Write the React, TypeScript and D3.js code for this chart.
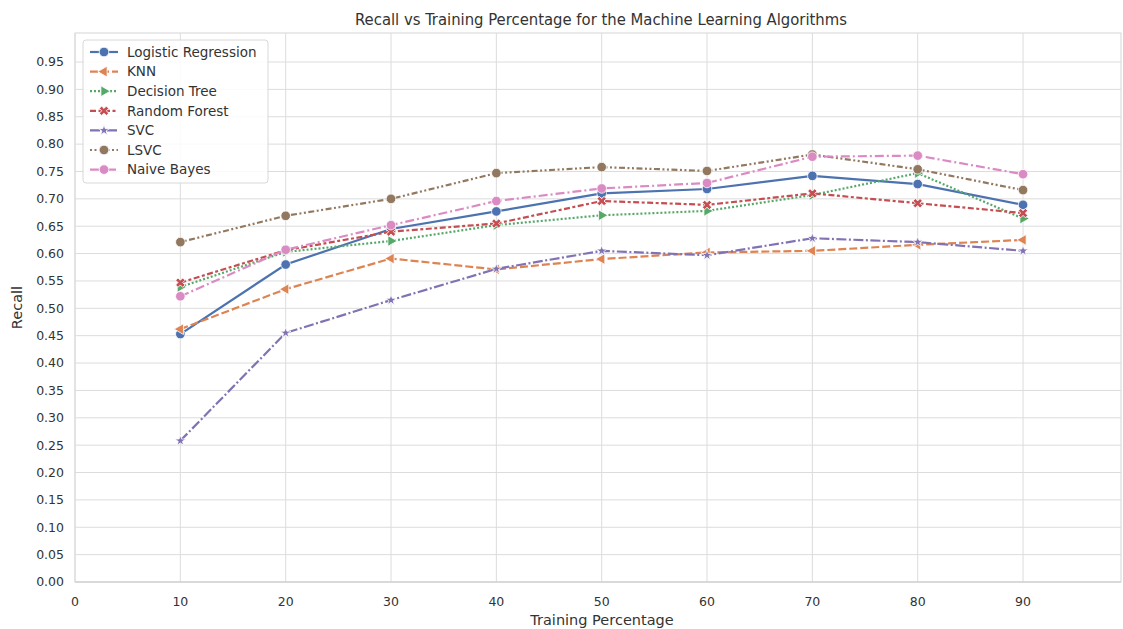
import React from 'react'
import * as d3 from 'd3'

const width = 1123
const height = 629
const margin = { top: 33, right: 2, bottom: 47, left: 75 }

const trainingPct = [10, 20, 30, 40, 50, 60, 70, 80, 90]
const xTicks = [0, 10, 20, 30, 40, 50, 60, 70, 80, 90]
const yTicks = d3.range(0, 20).map(i => i * 0.05)

const logisticRegression = [0.453, 0.58, 0.645, 0.677, 0.71, 0.718, 0.742, 0.727, 0.689]
const knn = [0.462, 0.535, 0.591, 0.571, 0.59, 0.602, 0.605, 0.616, 0.625]
const decisionTree = [0.539, 0.603, 0.623, 0.652, 0.67, 0.678, 0.707, 0.747, 0.664]
const randomForest = [0.547, 0.606, 0.64, 0.655, 0.696, 0.689, 0.71, 0.692, 0.674]
const svc = [0.258, 0.455, 0.515, 0.572, 0.605, 0.597, 0.628, 0.621, 0.605]
const lsvc = [0.621, 0.669, 0.7, 0.747, 0.758, 0.751, 0.781, 0.754, 0.716]
const naiveBayes = [0.522, 0.607, 0.652, 0.696, 0.719, 0.729, 0.777, 0.779, 0.745]

const seriesNames = ['Logistic Regression', 'KNN', 'Decision Tree', 'Random Forest', 'SVC', 'LSVC', 'Naive Bayes']
const seriesValues = [logisticRegression, knn, decisionTree, randomForest, svc, lsvc, naiveBayes]
const colors = ['#4C72B0', '#DD8452', '#55A868', '#C44E52', '#8172B3', '#937860', '#DA8BC3']
const dashes = ['', '8,3', '2,2', '6,2.5,3,2.5', '10,2.5,2,2.5', '2,2.5,2,2.5,6,2.5', '9,3,2,3']
const markers = ['circle', 'left', 'right', 'x', 'star', 'circle', 'circle']

const font = '"DejaVu Sans", sans-serif'

function Marker({ kind, x, y, color }: { kind: string, x: number, y: number, color: string }) {
  const stroke = 'white'
  if (kind === 'circle') {
    return <circle cx={x} cy={y} r={4.8} fill={color} stroke={stroke} strokeWidth={0.8} />
  }
  let sym: any = d3.symbolTriangle
  let area = 50
  let rot = 0
  if (kind === 'left') { rot = -90 }
  if (kind === 'right') { rot = 90 }
  if (kind === 'x') { sym = d3.symbolCross; rot = 45; area = 55 }
  if (kind === 'star') { sym = d3.symbolStar; area = 36 }
  const path = d3.symbol().type(sym).size(area)()
  return <path d={path || ''} transform={`translate(${x},${y}) rotate(${rot})`} fill={color} stroke={stroke} strokeWidth={0.8} />
}

export default function App() {
  const x = d3.scaleLinear().domain([0, 99.3]).range([margin.left, width - margin.right])
  const y = d3.scaleLinear().domain([0, 1.003]).range([height - margin.bottom, margin.top])
  const line = d3.line<number>().x((_, i) => x(trainingPct[i])).y(d => y(d))

  const legendX = 83
  const legendY = 40
  const rowH = 19.6

  return (
    <svg width={width} height={height} style={{ position: 'absolute', left: 0, top: 0, background: 'white' }}>
      <rect x={margin.left} y={margin.top} width={width - margin.right - margin.left} height={height - margin.bottom - margin.top} fill="white" stroke="#d5d5d5" strokeWidth={1} />
      {yTicks.map(t => (
        <g key={'y' + t}>
          <line x1={margin.left} x2={width - margin.right} y1={y(t)} y2={y(t)} stroke="#dcdcdc" strokeWidth={1} />
          <text x={margin.left - 11} y={y(t)} dy="0.35em" textAnchor="end" fontSize={12.5} fontFamily={font} fill="#333">{t.toFixed(2)}</text>
        </g>
      ))}
      {xTicks.map(t => (
        <g key={'x' + t}>
          <line x1={x(t)} x2={x(t)} y1={margin.top} y2={height - margin.bottom} stroke="#dcdcdc" strokeWidth={1} />
          <text x={x(t)} y={height - margin.bottom + 24} textAnchor="middle" fontSize={12.5} fontFamily={font} fill="#333">{t}</text>
        </g>
      ))}
      <line x1={margin.left} x2={width - margin.right} y1={height - margin.bottom} y2={height - margin.bottom} stroke="#cfcfcf" />
      <text x={(margin.left + width - margin.right) / 2 + 4} y={height - 4} textAnchor="middle" fontSize={14.5} fontFamily={font} fill="#333">Training Percentage</text>
      <text transform={`translate(22,${(margin.top + height - margin.bottom) / 2}) rotate(-90)`} textAnchor="middle" fontSize={14.5} fontFamily={font} fill="#333">Recall</text>
      <text x={601} y={25} textAnchor="middle" fontSize={16.5} fontFamily='"DejaVu Sans Condensed", "DejaVu Sans", sans-serif' style={{ fontStretch: 'condensed' }} fill="#333">Recall vs Training Percentage for the Machine Learning Algorithms</text>

      {seriesValues.map((vals, si) => (
        <g key={seriesNames[si]}>
          <path d={line(vals) || ''} fill="none" stroke={colors[si]} strokeWidth={2.2} strokeDasharray={dashes[si]} />
          {vals.map((v, i) => (
            <Marker key={i} kind={markers[si]} x={x(trainingPct[i])} y={y(v)} color={colors[si]} />
          ))}
        </g>
      ))}

      <rect x={legendX} y={legendY} width={185} height={143} rx={3} fill="white" fillOpacity={0.85} stroke="#d8d8d8" />
      {seriesNames.map((name, i) => {
        const cy = legendY + 12 + i * rowH
        return (
          <g key={'lg' + name}>
            <line x1={legendX + 7} x2={legendX + 35} y1={cy} y2={cy} stroke={colors[i]} strokeWidth={2.2} strokeDasharray={dashes[i]} />
            <Marker kind={markers[i]} x={legendX + 21} y={cy} color={colors[i]} />
            <text x={legendX + 44} y={cy} dy="0.35em" fontSize={13.5} fontFamily={font} fill="#333">{name}</text>
          </g>
        )
      })}
    </svg>
  )
}
